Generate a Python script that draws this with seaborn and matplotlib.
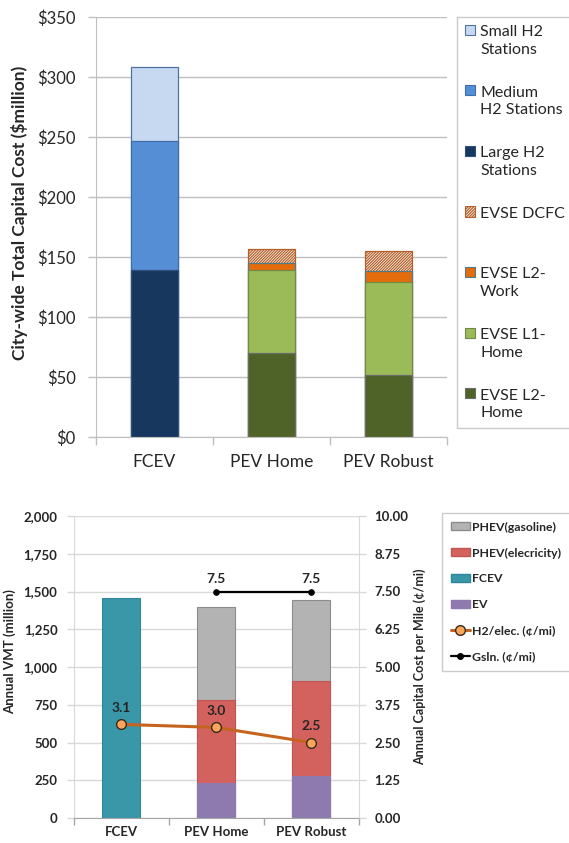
import numpy as np
import pandas as pd
import matplotlib
matplotlib.use("Agg")
import matplotlib.pyplot as plt
import seaborn as sns
from matplotlib.patches import Patch, Rectangle
from matplotlib.lines import Line2D
from matplotlib.legend_handler import HandlerPatch
from matplotlib.ticker import FuncFormatter, FixedLocator

sns.set_style("white")
plt.rcParams['font.family'] = ['Lato', 'DejaVu Sans']
plt.rcParams['hatch.linewidth'] = 0.9

# top chart data ($million)
cats_top = ["FCEV", "PEV Home", "PEV Robust"]
large_h2 = [139, 0, 0]
medium_h2 = [108, 0, 0]
small_h2 = [61, 0, 0]
evse_l2_home = [0, 70, 52]
evse_l1_home = [0, 69, 77]
evse_l2_work = [0, 6, 9]
evse_dcfc = [0, 12, 17]

# bottom chart data
cats_bot = ["FCEV", "PEV Home", "PEV Robust"]
ev_vmt = [0, 235, 280]
phev_elec_vmt = [0, 545, 630]
phev_gas_vmt = [0, 620, 535]
fcev_vmt = [1460, 0, 0]
h2_elec_cost = [3.1, 3.0, 2.5]
gsln_cost = [np.nan, 7.5, 7.5]

fig = plt.figure(figsize=(5.69, 8.43), dpi=100)

#Top chart
ax1 = fig.add_axes([96/569, 1-437/843, 351/569, 420/843])
top_series = [  # name, values, face, edge, hatch  (bottom -> top)
    ("Large H2\nStations", large_h2, "#17375E", "#2E4F7A", None),
    ("Medium\nH2 Stations", medium_h2, "#558ED5", "#3F6FA8", None),
    ("Small H2\nStations", small_h2, "#C6D9F1", "#4F72A0", None),
    ("EVSE L2-\nHome", evse_l2_home, "#4F6228", "#6B6B6B", None),
    ("EVSE L1-\nHome", evse_l1_home, "#9BBB59", "#708A48", None),
    ("EVSE L2-\nWork", evse_l2_work, "#E46C0A", "#4F7A8A", None),
    ("EVSE DCFC", evse_dcfc, "#FFFFFF", "#B4602A", "////////////"),
]
df_top = pd.DataFrame({name: vals for name, vals, *_ in top_series}, index=cats_top)
cum_top = df_top.cumsum(axis=1)
for name, vals, face, edge, hatch in reversed(top_series):
    sub = pd.DataFrame({"cat": cats_top, "cum": cum_top[name].values, "v": vals})
    sub = sub[sub["v"] > 0]
    sns.barplot(data=sub, x="cat", y="cum", order=cats_top, color=face, saturation=1,
                width=0.4, edgecolor=edge, linewidth=0.9, hatch=hatch, errorbar=None, ax=ax1)

ax1.set_xlim(-0.5, 2.5)
ax1.set_ylim(0, 350)
ax1.set_yticks(np.arange(0, 351, 50))
ax1.yaxis.set_major_formatter(FuncFormatter(lambda v, p: f"${v:.0f}"))
ax1.set_xticks(range(3))
ax1.set_xticklabels(cats_top)
ax1.xaxis.set_minor_locator(FixedLocator([-0.5, 0.5, 1.5, 2.5]))
ax1.tick_params(axis='x', which='major', length=0, pad=12.5, labelsize=12.5, colors='#262626')
ax1.tick_params(axis='x', which='minor', length=6, width=1, color='#BFBFBF', direction='out', bottom=True)
ax1.tick_params(axis='y', length=6, width=1, color='#BFBFBF', direction='out', left=True, pad=8.5,
                labelsize=12, labelcolor='#262626')
ax1.yaxis.grid(True, color='#BFBFBF', lw=1)
ax1.set_axisbelow(True)
for s in ['top', 'right']:
    ax1.spines[s].set_visible(False)
for s in ['left', 'bottom']:
    ax1.spines[s].set_color('#BFBFBF')
ax1.set_xlabel("")
ax1.set_ylabel("City-wide Total Capital Cost ($million)", fontsize=12.5, fontweight='bold', color='#262626')
ax1.yaxis.set_label_coords(-0.194, 0.533)


def top_square(legend, orig_handle, xdescent, ydescent, width, height, fontsize):
    # square next to the first line of a two-line label
    return Rectangle((-xdescent, -ydescent + 8), width, height)


leg_order = [2, 1, 0, 6, 5, 4, 3]
handles = [Patch(facecolor=top_series[i][2], edgecolor=top_series[i][3], hatch=top_series[i][4], lw=0.8)
           for i in leg_order]
labels = [top_series[i][0] for i in leg_order]
labels = [l if "\n" in l else l + "\n " for l in labels]
leg = fig.legend(handles, labels, loc='upper left', bbox_to_anchor=(457/569, 1-17/843),
                 frameon=True, fancybox=False, edgecolor='#BFBFBF', fontsize=11.5,
                 handlelength=0.6, handleheight=0.6, handletextpad=0.35, labelspacing=1.8,
                 borderpad=0.5, borderaxespad=0,
                 handler_map={Patch: HandlerPatch(patch_func=top_square)})
leg.get_frame().set_linewidth(1)
for t in leg.get_texts():
    t.set_color('#262626')
    t.set_linespacing(1.35)

#Bottom chart
ax3 = fig.add_axes([73.5/569, 1-818/843, 285/569, 302/843])
bot_series = [
    ("EV", ev_vmt, "#8E7AAF", "#8E7AAF"),
    ("PHEV(elecricity)", phev_elec_vmt, "#D3625F", "#C05552"),
    ("PHEV(gasoline)", phev_gas_vmt, "#B3B3B3", "#8C8C8C"),
    ("FCEV", fcev_vmt, "#3A97A8", "#2F8696"),
]
df_bot = pd.DataFrame({name: vals for name, vals, *_ in bot_series}, index=cats_bot)
cum_bot = df_bot.cumsum(axis=1)
for name, vals, face, edge in reversed(bot_series):
    sub = pd.DataFrame({"cat": cats_bot, "cum": cum_bot[name].values, "v": vals})
    sub = sub[sub["v"] > 0]
    sns.barplot(data=sub, x="cat", y="cum", order=cats_bot, color=face, saturation=1,
                width=0.4, edgecolor=edge, linewidth=0.8, errorbar=None, ax=ax3)

ax3.set_xlim(-0.5, 2.5)
ax3.set_ylim(0, 2000)
ax3.set_yticks(np.arange(0, 2001, 250))
ax3.yaxis.set_major_formatter(FuncFormatter(lambda v, p: f"{v:,.0f}"))
ax3.set_xticks(range(3))
ax3.set_xticklabels(cats_bot, fontweight='bold')
ax3.xaxis.set_minor_locator(FixedLocator([-0.5, 0.5, 1.5, 2.5]))
ax3.tick_params(axis='x', which='major', length=0, pad=6, labelsize=9.5, colors='#262626')
ax3.tick_params(axis='x', which='minor', length=5, width=1, color='#A6A6A6', direction='out', bottom=True)
ax3.tick_params(axis='y', length=5, width=1, color='#D9D9D9', direction='out', left=True, pad=6.5,
                labelsize=9.5, labelcolor='#262626')
for t in ax3.get_yticklabels():
    t.set_fontweight('bold')
ax3.yaxis.grid(True, color='#D9D9D9', lw=1)
ax3.set_axisbelow(True)
ax3.spines['top'].set_visible(False)
ax3.spines['left'].set_color('#D9D9D9')
ax3.spines['right'].set_color('#D9D9D9')
ax3.spines['bottom'].set_color('#A6A6A6')
ax3.set_xlabel("")
ax3.set_ylabel("Annual VMT (million)", fontsize=9.5, fontweight='bold', color='#262626')
ax3.yaxis.set_label_coords(-0.202, 0.55)

ax4 = ax3.twinx()
pos = np.arange(len(cats_bot))
sns.lineplot(x=pos, y=h2_elec_cost, color='#C5641E', lw=2.2, marker='o', markersize=7,
             markerfacecolor='#F9A65A', markeredgecolor='#3A2A18', markeredgewidth=1, ax=ax4)
sns.lineplot(x=pos, y=gsln_cost, color='black', lw=1.6, marker='o', markersize=4,
             markerfacecolor='black', markeredgecolor='black', ax=ax4)
for x, v in zip(pos, h2_elec_cost):
    ax4.annotate(f"{v:.1f}", (x, v), xytext=(0, 12), textcoords='offset points', ha='center',
                 va='center', fontsize=10, fontweight='bold', color='#262626')
for x, v in zip(pos, gsln_cost):
    if not np.isnan(v):
        ax4.annotate(f"{v:.1f}", (x, v), xytext=(0, 9), textcoords='offset points', ha='center',
                     va='center', fontsize=10, fontweight='bold', color='#262626')
ax4.set_ylim(0, 10)
ax4.set_yticks(np.arange(0, 10.01, 1.25))
ax4.yaxis.set_major_formatter(FuncFormatter(lambda v, p: f"{v:.2f}"))
ax4.tick_params(axis='y', length=5, width=1, color='#D9D9D9', direction='out', right=True, pad=6.5,
                labelsize=9.5, labelcolor='#262626')
for t in ax4.get_yticklabels():
    t.set_fontweight('bold')
for s in ax4.spines.values():
    s.set_visible(False)
ax4.set_ylabel("Annual Capital Cost per Mile (\u00a2/mi)", fontsize=9, fontweight='bold', color='#262626')
ax4.yaxis.set_label_coords(1.191, 0.5)
ax4.set_xlim(-0.5, 2.5)

bh = [Patch(facecolor="#B3B3B3", edgecolor="#8C8C8C"),
      Patch(facecolor="#D3625F", edgecolor="#C05552"),
      Patch(facecolor="#3A97A8", edgecolor="#2F8696"),
      Patch(facecolor="#8E7AAF", edgecolor="#8E7AAF"),
      Line2D([], [], color='#C5641E', lw=2.2, marker='o', markersize=7,
             markerfacecolor='#F9A65A', markeredgecolor='#3A2A18'),
      Line2D([], [], color='black', lw=1.6, marker='o', markersize=4)]
bl = ["PHEV(gasoline)", "PHEV(elecricity)", "FCEV", "EV", "H2/elec. (\u00a2/mi)", "Gsln. (\u00a2/mi)"]
leg2 = fig.legend(bh, bl, loc='upper left', bbox_to_anchor=(442/569, 1-513/843),
                  frameon=True, fancybox=False, edgecolor='#BFBFBF',
                  handlelength=1.6, handleheight=0.6, handletextpad=0.15, labelspacing=1.22,
                  borderpad=0.7, borderaxespad=0, prop={'weight': 'bold', 'size': 8.8})
leg2.get_frame().set_linewidth(1)
for t in leg2.get_texts():
    t.set_color('#262626')

fig.savefig("out.png", dpi=100)
